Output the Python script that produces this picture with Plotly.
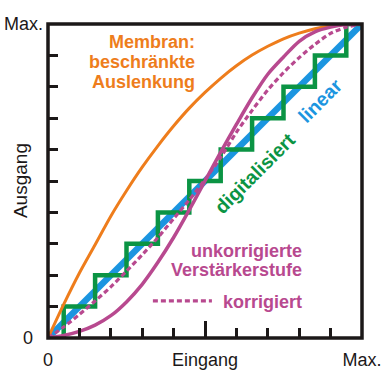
import plotly.graph_objects as go

# ---- data (unit scale 0..Max) ----
x_pts = [0, 0.05, 0.1, 0.15, 0.2, 0.25, 0.3, 0.35, 0.4, 0.45, 0.5,
         0.55, 0.6, 0.65, 0.7, 0.75, 0.8, 0.85, 0.9, 0.95, 1.0]
membran_y = [0, 0.107, 0.207, 0.297, 0.388, 0.469, 0.544, 0.612, 0.675, 0.732, 0.782,
             0.827, 0.867, 0.901, 0.929, 0.953, 0.971, 0.985, 0.994, 0.999, 1.0]
unkorr_y = [0, 0.008, 0.021, 0.041, 0.071, 0.115, 0.171, 0.241, 0.32, 0.408, 0.5,
            0.592, 0.68, 0.765, 0.84, 0.895, 0.945, 0.975, 0.99, 0.998, 1.0]
korr_y = [0, 0.035, 0.075, 0.118, 0.163, 0.213, 0.265, 0.32, 0.38, 0.44, 0.505,
          0.575, 0.655, 0.725, 0.79, 0.845, 0.893, 0.935, 0.97, 0.99, 1.0]
linear_x = [0, 1]
linear_y = [0, 1]
step_x = [0, 0.05, 0.15, 0.25, 0.35, 0.45, 0.55, 0.65, 0.75, 0.85, 0.95, 1.0]
step_y = [0, 0.1, 0.2, 0.3, 0.4, 0.5, 0.6, 0.7, 0.8, 0.9, 1.0, 1.0]

x_tickvals = [0, 0.5, 1]
x_ticktext = ["0", "Eingang", "Max."]
y_tickvals = [0, 1]
y_ticktext = ["0\u2007", "Max."]
y_title = "Ausgang"

membran_lines = ["Membran:", "beschränkte", "Auslenkung"]
unkorr_lines = ["unkorrigierte", "Verstärkerstufe"]
korr_label = "korrigiert"
linear_label = "linear"
digital_label = "digitalisiert"

# ---- styles ----
BLACK = "#1c1818"
BLUE = "#1b95e0"
GREEN = "#0b9444"
ORANGE = "#ee7d1c"
PINK = "#b8498f"
FONT = "Liberation Sans, Arial, sans-serif"

fig = go.Figure()
fig.add_trace(go.Scatter(x=linear_x, y=linear_y, mode="lines",
                         line=dict(color=BLUE, width=6.5), hoverinfo="skip"))
fig.add_trace(go.Scatter(x=step_x, y=step_y, mode="lines",
                         line=dict(color=GREEN, width=4.5, shape="hv"), hoverinfo="skip"))
fig.add_trace(go.Scatter(x=x_pts, y=membran_y, mode="lines",
                         line=dict(color=ORANGE, width=3, shape="spline", smoothing=0.8),
                         hoverinfo="skip"))
fig.add_trace(go.Scatter(x=x_pts, y=korr_y, mode="lines",
                         line=dict(color=PINK, width=3.2, dash="5px,3px", shape="spline",
                                   smoothing=0.8), hoverinfo="skip"))
fig.add_trace(go.Scatter(x=x_pts, y=unkorr_y, mode="lines",
                         line=dict(color=PINK, width=3.5, shape="spline", smoothing=0.8),
                         hoverinfo="skip"))

axis_common = dict(range=[0, 1], showgrid=False, zeroline=False, showline=False,
                   automargin=False,
                   ticks="inside", ticklen=17, tickwidth=3, tickcolor=BLACK,
                   tickfont=dict(family=FONT, size=18, color=BLACK),
                   minor=dict(ticks="inside", ticklen=10, tickwidth=3, tickcolor=BLACK,
                              tickmode="linear", tick0=0, dtick=0.1, showgrid=False),
                   fixedrange=True)

fig.update_layout(
    width=390, height=382,
    margin=dict(l=48, r=28, t=24, b=44, autoexpand=False),
    paper_bgcolor="white", plot_bgcolor="white",
    showlegend=False,
    xaxis=dict(axis_common, tickmode="array", tickvals=x_tickvals, ticktext=x_ticktext,
               ticklabelstandoff=9),
    yaxis=dict(axis_common, tickmode="array", tickvals=y_tickvals, ticktext=y_ticktext,
               ticklabelstandoff=4),
)

# frame
fig.add_shape(type="rect", xref="paper", yref="paper", x0=0, y0=0, x1=1, y1=1,
              line=dict(color=BLACK, width=3.5), layer="above")
# legend key for the dashed curve
fig.add_shape(type="line", xref="x", yref="y", x0=0.334, x1=0.522, y0=0.118, y1=0.118,
              line=dict(color=PINK, width=3.2, dash="5px,3px"))

def label(text, x, y, color, xanchor="center", angle=0, size=18):
    fig.add_annotation(text="<b>%s</b>" % text, x=x, y=y, xref="x", yref="y",
                       xanchor=xanchor, yanchor="middle", showarrow=False,
                       textangle=angle,
                       font=dict(family=FONT, size=size, color=color))

for i, t in enumerate(membran_lines):
    label(t, 0.4745, 0.943 - i * 0.064, ORANGE, xanchor="right")
for i, t in enumerate(unkorr_lines):
    label(t, 0.815, 0.277 - i * 0.061, PINK, xanchor="right")
label(korr_label, 0.815, 0.115, PINK, xanchor="right")
label(linear_label, 0.865, 0.755, BLUE, angle=-45, size=19.5)
label(digital_label, 0.658, 0.527, GREEN, angle=-45, size=19.5)

fig.add_annotation(text=y_title, xref="paper", yref="paper", x=-0.089, y=0.5,
                   textangle=-90, showarrow=False, xanchor="center", yanchor="middle",
                   font=dict(family=FONT, size=19, color=BLACK))

fig.write_html("out.html", config={"displayModeBar": False},
               post_script="document.body.style.margin='0';document.body.style.overflow='hidden';")
